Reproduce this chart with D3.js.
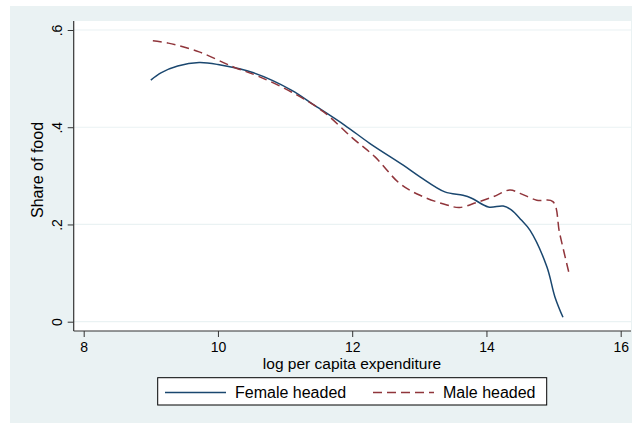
<!DOCTYPE html>
<html lang="en">
<head>
    <meta charset="UTF-8">
    <title>Share of food</title>
    <style>
        body { margin: 0; background: #fff; }
        text { font-family: Arial, "Liberation Sans", sans-serif; fill: #000; }
    </style>
</head>
<body>
    <div id="chart"></div>
    <script src="https://d3js.org/d3.v7.min.js"></script>
    <script>
        // values
        var femaleX = [9.0, 9.15, 9.4, 9.72, 10.0, 10.53, 11.1, 11.44, 11.89, 12.26, 12.76, 13.01, 13.38, 13.65, 13.78, 14.03, 14.25, 14.37, 14.52, 14.65, 14.9, 15.02, 15.14];
        var femaleY = [0.497, 0.512, 0.526, 0.533, 0.529, 0.512, 0.476, 0.445, 0.404, 0.367, 0.322, 0.298, 0.267, 0.260, 0.254, 0.236, 0.238, 0.230, 0.209, 0.188, 0.113, 0.051, 0.009];

        var maleX = [9.03, 9.26, 9.72, 10.23, 10.6, 11.1, 11.57, 12.01, 12.34, 12.71, 13.01, 13.41, 13.6, 13.85, 14.1, 14.35, 14.5, 14.75, 14.99, 15.09, 15.24];
        var maleY = [0.578, 0.573, 0.555, 0.524, 0.505, 0.472, 0.432, 0.377, 0.339, 0.284, 0.260, 0.240, 0.235, 0.245, 0.257, 0.271, 0.264, 0.250, 0.247, 0.182, 0.094];

        var xTicks = [8, 10, 12, 14, 16];
        var yTicks = [0, 0.2, 0.4, 0.6];
        var yTickLabels = ["0", ".2", ".4", ".6"];
        var seriesNames = ["Female headed", "Male headed"];

        var W = 632, H = 423;
        var plot = {left: 73.7, right: 631, top: 21, bottom: 331};

        var svg = d3.select("#chart").append("svg")
            .attr("width", W)
            .attr("height", H);

        // outer graph region
        svg.append("rect")
            .attr("x", 10).attr("y", 6)
            .attr("width", W - 10).attr("height", H - 6)
            .attr("fill", "#eaf2f3");

        // plot region
        svg.append("rect")
            .attr("x", plot.left).attr("y", plot.top)
            .attr("width", plot.right - plot.left).attr("height", plot.bottom - plot.top)
            .attr("fill", "#fff");

        var x = d3.scaleLinear().domain([8, 16]).range([83.7, 620.7]);
        var y = d3.scaleLinear().domain([0, 0.6]).range([321.7, 30]);

        // grid lines
        svg.append("g").selectAll("line")
            .data(yTicks)
            .enter().append("line")
            .attr("x1", plot.left).attr("x2", plot.right)
            .attr("y1", function(d) { return y(d); })
            .attr("y2", function(d) { return y(d); })
            .attr("stroke", "#eaf2f3")
            .attr("stroke-width", 1.2);

        // y axis
        var yAxis = svg.append("g")
            .attr("transform", "translate(" + plot.left + ",0)")
            .call(d3.axisLeft(y).tickValues(yTicks).tickSize(6).tickPadding(4)
                .tickFormat(function(d, i) { return yTickLabels[i]; }));
        yAxis.select(".domain").remove();
        yAxis.selectAll(".tick line").attr("stroke", "#333");
        yAxis.selectAll(".tick text")
            .attr("font-size", 14)
            .attr("transform", "rotate(-90)")
            .attr("text-anchor", "middle")
            .attr("x", 0)
            .attr("y", -12)
            .attr("dy", 0)
            .attr("fill", "#000");

        // x axis
        var xAxis = svg.append("g")
            .attr("transform", "translate(0," + plot.bottom + ")")
            .call(d3.axisBottom(x).tickValues(xTicks).tickSize(6).tickPadding(4)
                .tickFormat(d3.format("d")));
        xAxis.select(".domain").remove();
        xAxis.selectAll(".tick line").attr("stroke", "#333");
        xAxis.selectAll(".tick text")
            .attr("font-size", 14)
            .attr("y", 21)
            .attr("dy", 0)
            .attr("fill", "#000");

        // axis lines
        svg.append("line")
            .attr("x1", plot.left).attr("x2", plot.left)
            .attr("y1", plot.top).attr("y2", plot.bottom)
            .attr("stroke", "#333").attr("stroke-width", 1.2);
        svg.append("line")
            .attr("x1", plot.left).attr("x2", plot.right)
            .attr("y1", plot.bottom).attr("y2", plot.bottom)
            .attr("stroke", "#333").attr("stroke-width", 1.2);

        // axis titles
        svg.append("text")
            .attr("x", 352).attr("y", 369)
            .attr("text-anchor", "middle")
            .attr("font-size", 15.5)
            .text("log per capita expenditure");
        svg.append("text")
            .attr("transform", "translate(43,170) rotate(-90)")
            .attr("text-anchor", "middle")
            .attr("font-size", 16)
            .text("Share of food");

        var line = d3.line()
            .x(function(d) { return x(d[0]); })
            .y(function(d) { return y(d[1]); })
            .curve(d3.curveCatmullRom.alpha(0.5));

        var female = d3.zip(femaleX, femaleY);
        var male = d3.zip(maleX, maleY);

        svg.append("path")
            .datum(female)
            .attr("d", line)
            .attr("fill", "none")
            .attr("stroke", "#1a476f")
            .attr("stroke-width", 1.5);

        svg.append("path")
            .datum(male)
            .attr("d", line)
            .attr("fill", "none")
            .attr("stroke", "#90353b")
            .attr("stroke-width", 1.5)
            .attr("stroke-dasharray", "9,5");

        // legend
        var legend = svg.append("g");
        legend.append("rect")
            .attr("x", 157.7).attr("y", 377.7)
            .attr("width", 389).attr("height", 27.3)
            .attr("fill", "#fff")
            .attr("stroke", "#000")
            .attr("stroke-width", 1);

        var legendItems = [
            {name: seriesNames[0], color: "#1a476f", dash: null, x: 165},
            {name: seriesNames[1], color: "#90353b", dash: "9,5", x: 373}
        ];
        legendItems.forEach(function(item) {
            legend.append("line")
                .attr("x1", item.x).attr("x2", item.x + 61)
                .attr("y1", 392.5).attr("y2", 392.5)
                .attr("stroke", item.color)
                .attr("stroke-width", 1.5)
                .attr("stroke-dasharray", item.dash);
            legend.append("text")
                .attr("x", item.x + 70).attr("y", 398)
                .attr("font-size", 16)
                .text(item.name);
        });
    </script>
</body>
</html>
